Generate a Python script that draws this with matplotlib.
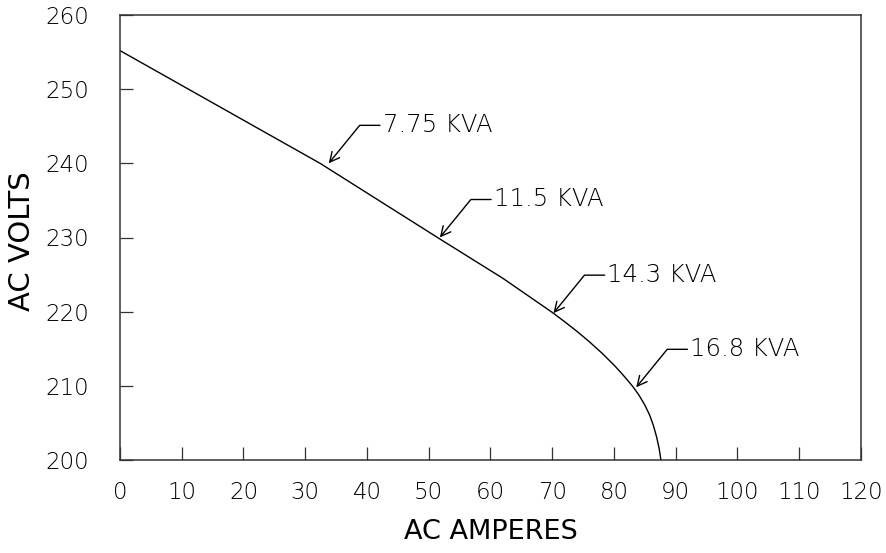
import matplotlib
matplotlib.use("Agg")
import matplotlib.pyplot as plt
import numpy as np

# curve
amps = [0, 16.2, 32.4, 51.8, 62, 70, 72, 74, 76, 78, 80, 81, 82, 83, 84, 85, 85.8,
        86.4, 86.9, 87.3, 87.6]
volts = [255.2, 247.6, 240.0, 229.8, 224.5, 219.9, 218.65, 217.35, 215.95, 214.45, 212.8,
         211.9, 210.95, 209.95, 208.8, 207.4, 206.0, 204.6, 203.1, 201.6, 200.0]

kva_labels = ["7.75 KVA", "11.5 KVA", "14.3 KVA", "16.8 KVA"]
kva_amps = [33.8, 51.8, 70.2, 83.6]
kva_volts = [240.0, 230.0, 219.8, 209.8]

x_ticks = np.arange(0, 121, 10)
y_ticks = np.arange(200, 261, 10)

plt.rcParams.update(
    {
        "font.family": ["DejaVu Sans"],
        "font.weight": "light",
        "axes.edgecolor": "#333333",
        "axes.linewidth": 1.1,
    }
)

fig = plt.figure(figsize=(8.87, 5.53), dpi=100)
ax = fig.add_axes([120 / 887, 93 / 553, 741 / 887, 445 / 553])

ax.plot(amps, volts, color="black", linewidth=1.0)

ax.set_xlim(0, 120)
ax.set_ylim(200, 260)
ax.set_xticks(x_ticks)
ax.set_yticks(y_ticks)
ax.tick_params(axis="both", direction="in", length=9.4, width=0.9, color="#333333",
               top=False, right=False)
ax.tick_params(axis="x", labelsize=16.5, pad=15)
ax.tick_params(axis="y", labelsize=16.5, pad=22)

ax.set_xlabel("AC AMPERES", fontsize=19.5, va="center")
ax.xaxis.set_label_coords(0.5, -0.162)
ax.set_ylabel("AC VOLTS", fontsize=21, va="center")
ax.yaxis.set_label_coords(-0.132, 0.492)

for label, a, v in zip(kva_labels, kva_amps, kva_volts):
    ax.annotate(
        label,
        xy=(a, v),
        xytext=(54, 38),
        textcoords="offset pixels",
        ha="left",
        va="center",
        fontsize=17.5,
        arrowprops=dict(
            arrowstyle="->",
            connectionstyle="angle,angleA=180,angleB=50.8,rad=0",
            relpos=(0, 0.5),
            shrinkA=0,
            shrinkB=0,
            color="black",
            linewidth=1.0,
        ),
    )

fig.savefig("out.png", dpi=100)
